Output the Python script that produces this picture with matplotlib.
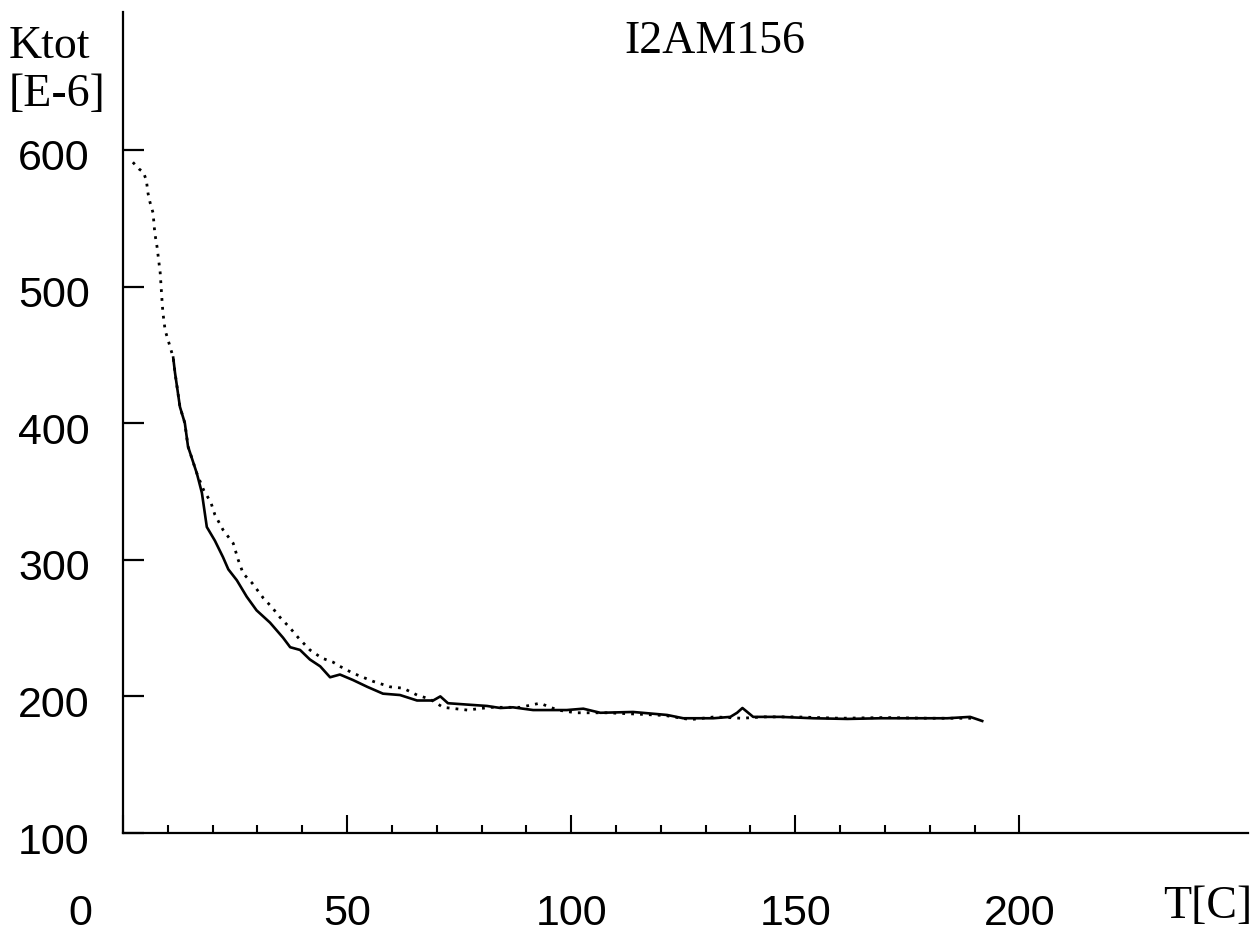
import matplotlib
matplotlib.use("Agg")
import matplotlib.pyplot as plt
import matplotlib.transforms as mtransforms

# solid curve
solid_T = [11.2, 11.6, 12.7, 13.8, 14.5, 16.5, 17.6, 18.7, 20.5, 22.3, 23.5, 25.4,
           27.6, 29.8, 32.8, 35.7, 37.3, 39.5, 41.7, 44.0, 46.2, 48.4, 51.3, 54.5,
           58.0, 61.8, 65.6, 69.2, 70.8, 72.5, 76.8, 81.2, 84.2, 87.0, 91.5, 99.0,
           102.7, 106.5, 113.8, 121.4, 125.0, 128.0, 131.7, 135.5, 137.0, 138.2,
           139.5, 140.6, 146.7, 154.0, 161.6, 169.0, 176.3, 183.9, 189.0, 191.7]
solid_K = [448, 437, 412, 400, 383, 363, 349, 324, 314, 302, 293, 285,
           273, 263, 254, 243, 236, 234, 227, 222, 214, 216, 212, 207,
           202, 201, 197, 197, 200, 195, 194, 193, 191.5, 192, 190, 190,
           191, 188, 188.6, 186.4, 184, 184, 184, 185, 188, 191.5,
           188, 185, 185, 184, 183.5, 184, 184, 184, 185, 182]

# dotted curve
dot_T = [2.2, 3.6, 4.5, 5.2, 5.6, 6.0, 6.7, 7.1, 7.6, 8.3, 8.7, 8.9, 9.4, 10.5,
         11.2, 11.6, 12.7, 13.8, 14.5, 16.5, 18.0, 19.6, 20.5, 22.3, 24.6, 25.7,
         26.8, 28.8, 31.3, 33.3, 35.0, 37.3, 39.1, 41.7, 44.4, 46.9, 48.4, 51.3,
         55.8, 59.6, 62.5, 65.6, 68.5, 71.4, 76.8, 82.0, 88.6, 93.0, 97.0, 101.0,
         108.0, 115.0, 121.0, 126.6, 132.0, 138.0, 143.0, 150.0, 160.0, 170.0,
         180.0, 190.0]
dot_K = [591, 586, 584, 578, 568, 562, 554, 539, 529, 510, 490, 481, 468, 456,
         448, 437, 412, 400, 383, 363, 351, 342, 333, 322, 312, 300,
         290, 283, 272, 265, 258, 250, 243, 234, 228, 225, 222, 217,
         211, 207, 206, 201, 198, 192, 190, 192, 192, 195, 190, 188,
         188, 187, 186, 183, 185, 184, 185, 185, 184, 184.5,
         184, 184]

xtick_pos = [0, 50, 100, 150, 200]
xtick_lab = ["0", "50", "100", "150", "200"]
xminor_pos = [10, 20, 30, 40, 60, 70, 80, 90, 110, 120, 130, 140, 160, 170, 180, 190]
ytick_pos = [100, 200, 300, 400, 500, 600]
ytick_lab = ["100", "200", "300", "400", "500", "600"]

fig = plt.figure(figsize=(12.58, 9.34), dpi=100)
ax = fig.add_axes([123 / 1258, 101 / 934, 1125 / 1258, 821 / 934])

ax.plot(dot_T, dot_K, color="black", lw=2.0, linestyle=(0, (1, 2.2)))
ax.plot(solid_T, solid_K, color="black", lw=1.9)

ax.set_xlim(0, 251)
ax.set_ylim(100, 701)

for s in ["top", "right"]:
    ax.spines[s].set_visible(False)
for s in ["left", "bottom"]:
    ax.spines[s].set_linewidth(1.6)

num_font = dict(family="Liberation Sans", size=31)
ax.set_xticks(xtick_pos, xtick_lab, **num_font)
ax.set_xticks(xminor_pos, minor=True)
ax.set_yticks(ytick_pos, ytick_lab, **num_font)
ax.tick_params(axis="x", which="major", direction="in", length=13, width=1.5, pad=44)
ax.tick_params(axis="x", which="minor", direction="in", length=6, width=1.5)
ax.tick_params(axis="y", which="major", direction="in", length=15, width=1.6, pad=24)

# the "0" label sits further left in the original
lab0 = ax.get_xticklabels()[0]
lab0.set_transform(lab0.get_transform() +
                   mtransforms.ScaledTranslation(-0.43, 0, fig.dpi_scale_trans))
# y labels sit a little below their ticks
for lab in ax.get_yticklabels():
    lab.set_transform(lab.get_transform() +
                      mtransforms.ScaledTranslation(0, -0.05, fig.dpi_scale_trans))

serif = dict(family="Liberation Serif", size=33)
fig.text(715 / 1258, 1 - 42 / 934, "I2AM156", ha="center", va="center", **serif)
fig.text(9 / 1258, 1 - 47 / 934, "Ktot", ha="left", va="center", **serif)
fig.text(9 / 1258, 1 - 95 / 934, "[E-6]", ha="left", va="center", **serif)
fig.text(1252 / 1258, 1 - 907 / 934, "T[C]", ha="right", va="center", **serif)

fig.savefig("out.png", dpi=100)
